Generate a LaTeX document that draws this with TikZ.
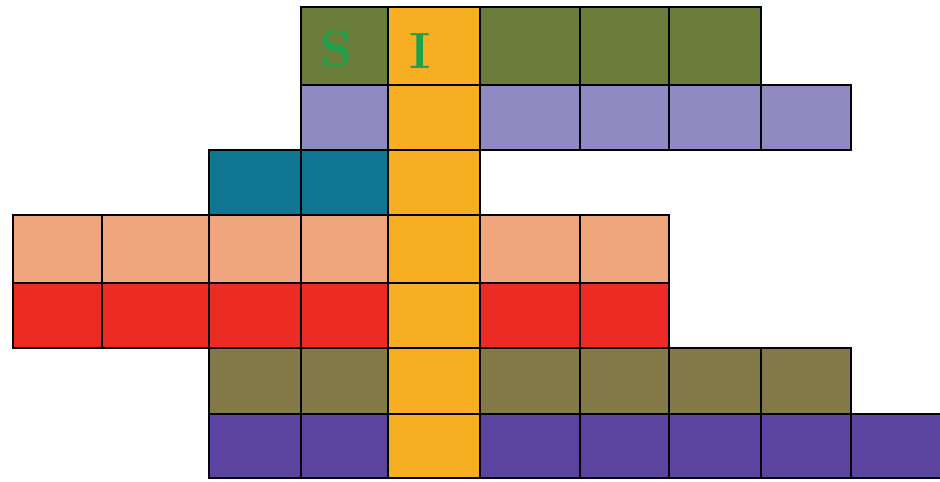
\documentclass[tikz,border=0pt]{standalone}
\usetikzlibrary{positioning}
\definecolor{topcol}{HTML}{6A7C3A}
\definecolor{midcol}{HTML}{F7AE22}
\definecolor{lavcol}{HTML}{9189C1}
\definecolor{tealcol}{HTML}{0E7690}
\definecolor{peachcol}{HTML}{F0A67D}
\definecolor{redcol}{HTML}{EC2B24}
\definecolor{olivecol}{HTML}{837A48}
\definecolor{violetcol}{HTML}{5B43A0}
\definecolor{lettercol}{HTML}{1FA04C}

\begin{document}
\begin{tikzpicture}[x=0.02cm, y=-0.02cm,
    cell/.style={draw=black, line width=1pt, inner sep=0pt, outer sep=0pt, anchor=north west},
    letter/.style={text=lettercol, inner sep=0pt, font=\fontsize{29}{29}\selectfont\bfseries}]
  \useasboundingbox (0,0) rectangle (940,481);
  \def\xs{{13,102,209,301,388,480,580,669,761,851,946}}
  \def\ys{{7,85,150,215,283,348,414,478}}
  % rows of cells, middle column always orange
  \foreach \r/\first/\last/\clr in {1/3/7/topcol, 2/3/8/lavcol, 3/2/4/tealcol,
      4/0/6/peachcol, 5/0/6/redcol, 6/2/8/olivecol, 7/2/9/violetcol}{
    \foreach \c in {\first,...,\last}{
      \pgfmathsetmacro\xa{\xs[\c]}
      \pgfmathsetmacro\xb{\xs[\c+1]}
      \pgfmathsetmacro\ya{\ys[\r-1]}
      \pgfmathsetmacro\yb{\ys[\r]}
      \pgfmathsetmacro\w{(\xb-\xa)*0.02}
      \pgfmathsetmacro\h{(\yb-\ya)*0.02}
      \ifnum\c=4 \def\f{midcol}\else\def\f{\clr}\fi
      \node[cell, fill=\f, minimum width=\w cm, minimum height=\h cm] (r\r-\c) at (\xa,\ya) {};
    }
  }
  \node[letter] (lettS) at (336,49) {S};
  \node[letter] (lettI) at (420,51) {I};
\end{tikzpicture}
\end{document}
